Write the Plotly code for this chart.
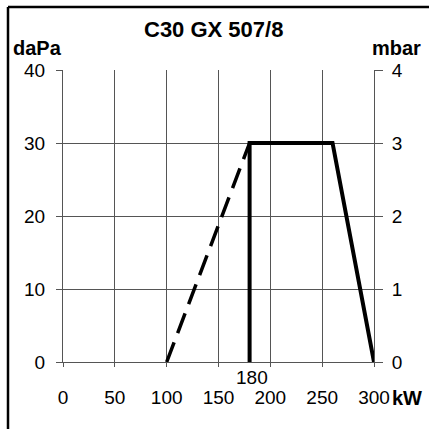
import plotly.graph_objects as go

# Data
x_ticks = [0, 50, 100, 150, 200, 250, 300]
y_left_ticks = [0, 10, 20, 30, 40]
y_right_ticks = [0, 1, 2, 3, 4]
dashed_x = [100, 180]
dashed_y = [0, 30]
solid_x = [180, 180, 260, 300]
solid_y = [0, 30, 30, 0]
marker_kw = 180

W = H = 429
FONT = "Liberation Sans, Arial, Helvetica, sans-serif"
GRID = "#555555"
TICKSIZE = 19

fig = go.Figure()
fig.add_trace(go.Scatter(x=dashed_x, y=dashed_y, mode="lines",
                         line=dict(color="black", width=3.5, dash="21px,10px"),
                         showlegend=False, hoverinfo="skip"))
fig.add_trace(go.Scatter(x=solid_x, y=solid_y, mode="lines",
                         line=dict(color="black", width=4),
                         showlegend=False, hoverinfo="skip"))
fig.add_trace(go.Scatter(x=[0], y=[0], yaxis="y2", mode="markers",
                         marker=dict(opacity=0), showlegend=False, hoverinfo="skip"))

x0p, x1p = 63 / W, 374 / W
y0p, y1p = 1 - 362 / H, 1 - 70 / H

fig.update_layout(
    width=W, height=H, autosize=False,
    margin=dict(l=0, r=0, t=0, b=0, pad=0, autoexpand=False),
    showlegend=False,
    paper_bgcolor="white", plot_bgcolor="white",
    font=dict(family=FONT, size=TICKSIZE, color="black"),
    xaxis=dict(domain=[x0p, x1p], range=[0, 300], tickvals=x_ticks,
               showgrid=True, gridcolor=GRID, gridwidth=1,
               showline=True, linecolor=GRID, linewidth=1,
               ticks="outside", ticklen=4, tickcolor=GRID, automargin=False,
               ticklabelstandoff=14, zeroline=False, fixedrange=True),
    yaxis=dict(domain=[y0p, y1p], range=[0, 40], tickvals=y_left_ticks,
               showgrid=True, gridcolor=GRID, gridwidth=1,
               showline=True, linecolor=GRID, linewidth=1,
               ticks="outside", ticklen=6, tickcolor=GRID, automargin=False,
               ticklabelstandoff=7, zeroline=False, fixedrange=True),
    yaxis2=dict(overlaying="y", side="right", range=[0, 4], tickvals=y_right_ticks,
                showgrid=False, showline=True, linecolor=GRID, linewidth=1,
                ticks="outside", ticklen=8, tickcolor=GRID, automargin=False,
                ticklabelstandoff=5, zeroline=False, fixedrange=True),
    shapes=[
        dict(type="line", xref="paper", yref="paper", x0=8 / W, x1=1,
             y0=1 - 7 / H, y1=1 - 7 / H, line=dict(color="black", width=2.5)),
        dict(type="line", xref="paper", yref="paper", x0=8 / W, x1=8 / W,
             y0=1 - 7 / H, y1=0, line=dict(color="black", width=2.5)),
    ],
    annotations=[
        dict(text="<b>C30 GX 507/8</b>", xref="paper", yref="paper",
             x=213 / W, y=1 - 30 / H, showarrow=False, font=dict(size=22),
             xanchor="center", yanchor="middle"),
        dict(text="<b>daPa</b>", xref="paper", yref="paper",
             x=11 / W, y=1 - 48 / H, showarrow=False, font=dict(size=20),
             xanchor="left", yanchor="middle"),
        dict(text="<b>mbar</b>", xref="paper", yref="paper",
             x=423 / W, y=1 - 48 / H, showarrow=False, font=dict(size=20),
             xanchor="right", yanchor="middle"),
        dict(text="<b>kW</b>", xref="paper", yref="paper",
             x=390 / W, y=1 - 398 / H, showarrow=False, font=dict(size=20),
             xanchor="left", yanchor="middle"),
        dict(text=str(marker_kw), x=marker_kw, xref="x", yref="paper",
             y=1 - 377 / H, xshift=2, showarrow=False, font=dict(size=TICKSIZE),
             xanchor="center", yanchor="middle"),
    ],
)

fig.write_html(
    "out.html",
    config={"displayModeBar": False},
    post_script="document.body.style.margin='0';document.body.style.overflow='hidden';",
)
